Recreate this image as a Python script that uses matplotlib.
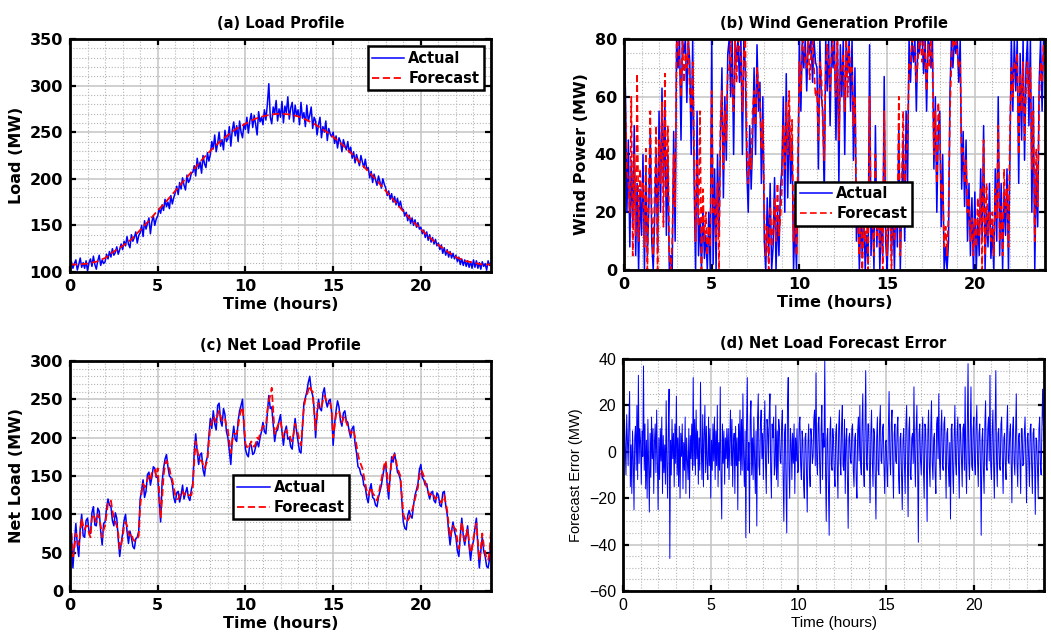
import numpy as np
import matplotlib
matplotlib.use("Agg")
import matplotlib.pyplot as plt
from matplotlib.ticker import MultipleLocator

# --- values (MW) ---
# load forecast, 30 min steps
load_forecast = [108, 108, 109, 111, 115, 122, 128, 135, 145, 155, 166, 176, 187, 198,
                 209, 220, 230, 239, 247, 254, 259, 264, 267, 269, 270, 269, 267, 263,
                 258, 252, 245, 237, 228, 218, 208, 198, 187, 176, 165, 155, 146, 137,
                 129, 122, 116, 112, 110, 108, 108]

# load actual, 5 min steps
load_actual = [106, 111, 104, 109, 113, 102, 108, 115, 105, 110, 104, 112,
               101, 110, 114, 106, 117, 108, 103, 112, 118, 107, 113, 109,
               111, 119, 114, 122, 116, 125, 118, 121, 127, 119, 124, 130,
               124, 133, 128, 138, 130, 126, 140, 133, 137, 143, 131, 139,
               142, 150, 138, 155, 146, 152, 158, 141, 154, 160, 150, 157,
               160, 168, 163, 172, 166, 178, 170, 175, 168, 182, 173, 180,
               185, 192, 183, 196, 189, 201, 193, 188, 204, 196, 199, 206,
               207, 214, 203, 222, 211, 218, 206, 225, 216, 212, 228, 219,
               226, 240, 232, 247, 229, 238, 250, 235, 242, 231, 252, 240,
               243, 256, 235, 252, 261, 246, 257, 240, 262, 250, 244, 259,
               253, 266, 249, 262, 270, 255, 268, 258, 247, 272, 261, 266,
               258, 274, 263, 280, 302, 266, 259, 277, 270, 284, 262, 275,
               266, 283, 260, 278, 271, 288, 264, 276, 282, 261, 279, 268,
               274, 258, 282, 265, 271, 256, 279, 262, 268, 277, 254, 266,
               262, 247, 258, 266, 244, 256, 250, 262, 241, 254, 248, 245,
               250, 238, 246, 233, 244, 240, 229, 242, 236, 231, 240, 228,
               234, 222, 229, 217, 226, 220, 214, 225, 218, 212, 221, 210,
               212, 201, 208, 196, 205, 199, 193, 203, 197, 190, 200, 194,
               190, 182, 187, 178, 184, 175, 181, 172, 179, 170, 176, 168,
               167, 160, 164, 155, 161, 152, 158, 150, 156, 148, 153, 146,
               148, 141, 145, 137, 143, 134, 140, 132, 137, 130, 135, 128,
               131, 124, 129, 120, 126, 118, 124, 116, 122, 115, 120, 114,
               118, 111, 116, 108, 114, 107, 113, 106, 112, 105, 111, 104,
               113, 105, 112, 104, 110, 103, 111, 106, 109, 102, 112, 107,
               110]

# wind power, 5 min steps
wind_actual = [80, 62, 20, 45, 8, 38, 15, 50, 5, 30, 0, 28,
               12, 40, 0, 35, 5, 22, 48, 10, 0, 18, 42, 6,
               55, 20, 63, 28, 58, 12, 40, 0, 5, 0, 48, 10,
               80, 70, 80, 45, 80, 75, 80, 58, 80, 72, 40, 80,
               30, 0, 55, 5, 18, 0, 22, 4, 12, 0, 20, 0,
               80, 2, 35, 0, 40, 12, 45, 70, 25, 60, 38, 75,
               80, 60, 80, 40, 80, 72, 80, 65, 80, 40, 80, 70,
               35, 20, 50, 28, 45, 70, 40, 78, 55, 65, 30, 60,
               10, 0, 25, 5, 30, 0, 8, 32, 0, 20, 5, 28,
               35, 60, 20, 68, 25, 55, 30, 45, 0, 18, 0, 30,
               80, 55, 80, 70, 80, 62, 80, 75, 80, 65, 80, 72,
               70, 35, 80, 60, 55, 25, 80, 62, 80, 50, 80, 70,
               80, 45, 80, 30, 78, 60, 80, 40, 80, 68, 80, 55,
               80, 38, 70, 10, 25, 0, 18, 5, 22, 0, 12, 2,
               78, 5, 25, 0, 50, 8, 30, 0, 18, 5, 67, 10,
               0, 15, 28, 5, 22, 0, 30, 8, 50, 0, 25, 45,
               10, 55, 30, 80, 65, 80, 72, 80, 55, 80, 75, 80,
               80, 68, 80, 55, 80, 78, 70, 80, 35, 60, 20, 48,
               55, 15, 40, 0, 8, 0, 10, 62, 80, 70, 80, 75,
               80, 65, 80, 28, 48, 22, 45, 10, 30, 5, 25, 0,
               27, 0, 18, 5, 35, 10, 50, 0, 22, 8, 30, 4,
               15, 0, 35, 10, 60, 5, 30, 0, 28, 12, 35, 0,
               40, 80, 55, 80, 62, 80, 30, 75, 45, 80, 38, 70,
               80, 50, 80, 20, 60, 0, 35, 15, 65, 80, 55, 80,
               75]

wind_forecast = [72, 55, 35, 30, 20, 60, 5, 40, 12, 68, 10, 35,
                 25, 30, 8, 42, 0, 30, 55, 20, 5, 28, 50, 0,
                 45, 30, 58, 15, 68, 25, 50, 5, 0, 10, 40, 22,
                 78, 80, 72, 60, 80, 65, 75, 70, 80, 62, 55, 72,
                 40, 10, 38, 15, 55, 0, 28, 10, 20, 5, 15, 8,
                 62, 20, 25, 10, 30, 0, 52, 62, 35, 55, 45, 68,
                 70, 80, 62, 55, 80, 65, 80, 78, 72, 55, 75, 80,
                 45, 30, 40, 35, 55, 62, 50, 70, 65, 58, 42, 52,
                 20, 5, 15, 0, 22, 8, 15, 25, 10, 30, 12, 18,
                 28, 50, 35, 58, 40, 62, 38, 52, 10, 25, 5, 40,
                 72, 62, 80, 78, 72, 70, 80, 66, 75, 80, 70, 60,
                 62, 45, 72, 68, 50, 38, 70, 78, 72, 62, 75, 80,
                 72, 60, 80, 45, 68, 70, 75, 55, 80, 60, 78, 68,
                 70, 50, 60, 20, 15, 5, 25, 0, 15, 10, 20, 0,
                 60, 15, 18, 5, 40, 12, 22, 8, 28, 0, 55, 18,
                 5, 25, 20, 0, 28, 10, 22, 15, 60, 5, 30, 55,
                 20, 40, 45, 72, 70, 80, 78, 75, 65, 72, 80, 78,
                 72, 80, 75, 62, 78, 70, 80, 72, 40, 55, 30, 58,
                 48, 25, 30, 8, 15, 5, 20, 55, 72, 80, 78, 80,
                 75, 70, 72, 40, 42, 30, 38, 20, 25, 10, 18, 5,
                 18, 8, 25, 12, 28, 0, 45, 5, 30, 12, 20, 10,
                 20, 5, 28, 18, 50, 10, 22, 5, 35, 20, 28, 8,
                 48, 70, 60, 72, 70, 75, 40, 68, 55, 72, 45, 62,
                 72, 60, 70, 35, 55, 10, 42, 22, 58, 72, 65, 78,
                 70]

# net load, 5 min steps
net_actual = [55, 72, 30, 62, 88, 60, 45, 82, 100, 72, 70, 92,
              95, 78, 75, 102, 110, 86, 85, 108, 104, 78, 60, 88,
              90, 108, 120, 112, 110, 92, 85, 102, 95, 68, 45, 62,
              75, 92, 100, 78, 62, 78, 70, 58, 55, 68, 70, 78,
              120, 132, 145, 122, 130, 152, 155, 138, 148, 162, 160, 148,
              150, 118, 90, 142, 160, 172, 178, 162, 150, 148, 140, 122,
              115, 128, 130, 116, 125, 138, 120, 128, 135, 122, 118, 132,
              140, 182, 205, 182, 165, 178, 180, 158, 150, 168, 175, 202,
              225, 212, 235, 218, 210, 242, 245, 222, 215, 238, 230, 208,
              200, 182, 165, 198, 215, 198, 195, 222, 235, 242, 250, 212,
              185, 178, 175, 192, 190, 178, 180, 188, 195, 188, 200, 208,
              220, 208, 205, 232, 255, 238, 240, 218, 195, 208, 210, 222,
              230, 208, 190, 208, 215, 198, 200, 188, 185, 208, 225, 208,
              195, 182, 180, 212, 245, 252, 260, 272, 280, 262, 255, 238,
              200, 232, 250, 238, 235, 258, 265, 248, 240, 248, 250, 232,
              190, 218, 235, 248, 240, 222, 215, 232, 235, 222, 220, 208,
              200, 212, 215, 192, 180, 162, 160, 152, 150, 138, 135, 122,
              115, 132, 140, 122, 120, 112, 110, 122, 130, 138, 150, 162,
              165, 138, 120, 152, 175, 168, 180, 168, 155, 152, 145, 118,
              90, 82, 80, 98, 105, 98, 95, 112, 125, 132, 140, 158,
              165, 148, 145, 138, 140, 128, 120, 128, 130, 118, 115, 128,
              125, 112, 110, 128, 130, 112, 100, 78, 60, 78, 90, 78,
              70, 52, 45, 72, 95, 72, 60, 72, 85, 58, 40, 58,
              65, 82, 95, 58, 30, 52, 70, 52, 45, 32, 30, 42,
              70]

net_forecast = [60, 75, 45, 55, 75, 70, 60, 75, 95, 85, 80, 85,
                85, 75, 70, 95, 100, 95, 90, 100, 95, 85, 70, 80,
                85, 100, 115, 118, 118, 105, 95, 90, 85, 75, 55, 60,
                70, 85, 90, 85, 75, 72, 75, 68, 65, 68, 68, 72,
                110, 128, 140, 135, 140, 145, 150, 145, 155, 155, 158, 150,
                160, 130, 95, 120, 150, 165, 170, 165, 160, 150, 145, 135,
                125, 120, 120, 125, 130, 130, 125, 128, 128, 125, 125, 125,
                135, 170, 195, 185, 175, 170, 170, 165, 160, 165, 170, 195,
                215, 220, 228, 225, 220, 230, 235, 228, 222, 225, 225, 215,
                210, 195, 180, 195, 205, 205, 205, 215, 228, 235, 240, 220,
                192, 188, 185, 190, 195, 190, 188, 192, 200, 198, 205, 210,
                215, 215, 215, 235, 248, 255, 265, 235, 205, 210, 215, 220,
                222, 210, 200, 205, 210, 205, 205, 198, 195, 205, 218, 210,
                205, 195, 190, 215, 240, 250, 255, 262, 268, 262, 260, 235,
                210, 230, 245, 242, 240, 248, 255, 250, 245, 245, 245, 235,
                200, 215, 230, 235, 235, 228, 220, 225, 228, 220, 215, 212,
                205, 208, 210, 200, 190, 178, 170, 165, 160, 150, 140, 130,
                125, 130, 135, 128, 125, 120, 118, 125, 135, 145, 155, 165,
                170, 150, 128, 150, 170, 175, 178, 170, 160, 155, 150, 125,
                100, 95, 90, 92, 95, 100, 105, 112, 120, 128, 135, 150,
                158, 155, 150, 142, 135, 130, 125, 126, 128, 124, 120, 122,
                120, 118, 115, 120, 125, 115, 105, 88, 70, 78, 85, 82,
                80, 65, 55, 70, 90, 78, 65, 72, 80, 65, 50, 55,
                70, 78, 88, 65, 40, 55, 75, 60, 50, 42, 40, 50,
                80]

# net load forecast error, 2.5 min steps
net_error = [8, -4, 14, 2, -10, 16, 5, -6, 12, 26, -15, 3, -18, 9, -3, -25, 6, 11, -8, 20, -12, 33, -5, 10,
             4, -14, 9, -2, 37, -8, 12, -16, 5, -20, 14, -6, -26, 8, -11, 15, -3, 10, -18, 4, 12, -9, 18, -5,
             -25, 6, -12, 10, -4, 15, -18, 7, -9, 3, -14, 22, -6, -20, 11, 27, -46, 5, -10, 14, -3, 8, -15, 12,
             -5, 24, -10, 6, -15, 11, -20, 8, -2, 12, -16, 4, -8, 15, -18, 6, -4, -12, 10, -20, 7, -3, 12, -8,
             32, -6, 14, -10, 18, -3, 9, -14, 6, -8, 30, 2, -12, 16, -15, 7, 20, -9, 11, -5, -12, 15, -6, 10,
             -20, 5, -8, 12, -4, 15, -12, 9, -6, 20, -15, 4, -8, 28, -10, -29, 12, -5, 9, -14, 6, -3, 10, -7,
             10, -12, 5, 18, -6, 14, -15, 3, 8, -18, 11, -6, 6, -25, 12, -4, 18, -10, 14, -8, 25, -3, -15, 9,
             -37, 12, 32, -8, 4, -35, 15, 22, -10, 6, -12, 15, -4, -18, 9, -32, 14, 25, -6, -10, 12, 18, -3, 8,
             -12, 9, 22, -6, -18, 14, 10, -5, 16, 25, -8, -20, 12, 6, 15, -10, -6, 20, -12, 9, -15, 14, 10, -4,
             -5, 12, 18, -10, -30, 8, 12, -16, -35, 20, 32, -6, -20, 10, 4, -12, 8, -5, 12, -18, 6, -4, 10, -9,
             -8, 12, 15, -6, -12, 9, 5, -14, -20, 6, 8, -10, -26, 4, 12, -8, -15, 10, 6, -5, -2, 14, 18, -6,
             34, -4, -10, 12, 15, -6, -18, 10, 20, -12, 8, 2, 40, -8, -30, 6, 10, -15, -36, 8, 15, -6, -8, 10,
             5, -9, -15, 8, 12, -6, -20, 10, 18, -4, -10, 12, 20, -6, -8, 14, -18, 5, 10, -12, -33, 6, 8, -3,
             -5, 10, 12, -8, -15, 6, 8, -12, -20, 9, 15, -4, 20, -6, -10, 12, 25, -8, -15, 10, 35, -4, -8, 12,
             12, -6, -22, 8, 18, -4, -15, 10, 8, -10, -29, 6, 15, -8, -10, 12, 20, -4, -5, 10, 12, -6, -18, 4,
             5, -8, -15, 10, 26, -3, -10, 12, 18, -6, -20, 8, 12, -4, -5, 10, 15, -12, -18, 6, 8, -10, -25, 5,
             10, -6, -18, 12, 20, -4, -28, 9, 15, -10, -12, 6, 8, -5, 28, -3, -15, 10, 20, -6, -39, 8, 12, -4,
             -10, 6, 15, -8, -20, 12, 10, -4, -30, 8, 18, -6, -15, 10, 22, -5, -12, 6, 8, -10, -18, 12, 15, -3,
             25, -4, -12, 10, 18, -6, -8, 12, 15, -4, -20, 8, 10, -6, -15, 4, -29, 10, 12, -8, -18, 6, 20, -5,
             -10, 8, 15, -6, -20, 12, 8, -4, -15, 10, 12, -8, 28, -6, -18, 10, 38, -4, -12, 8, 28, -6, -8, 10,
             15, -6, -10, 12, 20, -4, -15, 8, 12, -6, -36, 5, 10, -8, -18, 12, 22, -6, -8, 10, 15, -4, 33, -6,
             -12, 8, 18, -6, -20, 10, 35, -4, -15, 8, 10, -6, -8, 12, 15, -4, -18, 6, 8, -5, -12, 10, 20, -4,
             -5, 8, 12, -6, -22, 10, 15, -4, -10, 8, 25, -5, -15, 6, 8, -4, -18, 10, 10, -6, -5, 8, 15, -3,
             -22, 6, 8, -4, -15, 10, 12, -6, -18, 8, 10, -4, -27, 6, 5, -8, -20, 10, 15, -6, -10, 8, 27, 12,
             5]


def hours(series):
    return np.linspace(0, 24, len(series))


def style_axes(ax, ylim, ystep, yminor, bold=True):
    weight = 'bold' if bold else 'normal'
    ax.set_xlim(0, 24)
    ax.set_ylim(*ylim)
    ax.xaxis.set_major_locator(MultipleLocator(5))
    ax.xaxis.set_minor_locator(MultipleLocator(1))
    ax.yaxis.set_major_locator(MultipleLocator(ystep))
    ax.yaxis.set_minor_locator(MultipleLocator(yminor))
    ax.set_axisbelow(True)
    ax.grid(which='major', color='#c4c4c4', lw=1.1)
    ax.grid(which='minor', color='#b4b4b4', lw=0.8, ls=':')
    ax.tick_params(which='major', direction='in', top=True, right=True,
                   length=4, width=1.6, labelsize=11.5, pad=5)
    ax.tick_params(which='minor', length=0)
    for lab in ax.get_xticklabels() + ax.get_yticklabels():
        lab.set_fontweight(weight)
    for s in ax.spines.values():
        s.set_linewidth(2)


def add_legend(ax, **kw):
    leg = ax.legend(fancybox=False, framealpha=1, edgecolor='black',
                    prop={'weight': 'bold', 'size': 10.5}, handlelength=2.2,
                    borderpad=0.3, labelspacing=0.35, handletextpad=0.3,
                    borderaxespad=0.5, **kw)
    leg.get_frame().set_linewidth(1.8)


plt.rcParams['font.family'] = 'DejaVu Sans'
fig = plt.figure(figsize=(10.51, 6.38), dpi=100)

ax_a = fig.add_axes([0.0666, 0.5737, 0.4006, 0.3652])
ax_b = fig.add_axes([0.5937, 0.5768, 0.4006, 0.3621])
ax_c = fig.add_axes([0.0666, 0.0737, 0.4006, 0.3605])
ax_d = fig.add_axes([0.5928, 0.0737, 0.4006, 0.3636])

blue = '#0000ff'
red = '#ff0000'
dash = (0, (4, 2))

# (a) load
ax_a.plot(hours(load_actual), load_actual, color=blue, lw=1.1, label='Actual')
ax_a.plot(hours(load_forecast), load_forecast, color=red, lw=1.3, ls=dash, label='Forecast')
style_axes(ax_a, (100, 350), 50, 10)
ax_a.set_title('(a) Load Profile', fontsize=10.5, fontweight='bold', pad=8)
ax_a.set_xlabel('Time (hours)', fontsize=11.5, fontweight='bold', labelpad=2)
ax_a.set_ylabel('Load (MW)', fontsize=11.5, fontweight='bold')
add_legend(ax_a, loc='upper right')

# (b) wind
ax_b.plot(hours(wind_actual), wind_actual, color=blue, lw=1.1, label='Actual')
ax_b.plot(hours(wind_forecast), wind_forecast, color=red, lw=1.2, ls=dash, label='Forecast')
style_axes(ax_b, (0, 80), 20, 5)
ax_b.set_title('(b) Wind Generation Profile', fontsize=10.5, fontweight='bold', pad=8)
ax_b.set_xlabel('Time (hours)', fontsize=11.5, fontweight='bold', labelpad=2)
ax_b.set_ylabel('Wind Power (MW)', fontsize=11.5, fontweight='bold')
add_legend(ax_b, loc='lower left', bbox_to_anchor=(0.39, 0.16))

# (c) net load
ax_c.plot(hours(net_actual), net_actual, color=blue, lw=1.1, label='Actual')
ax_c.plot(hours(net_forecast), net_forecast, color=red, lw=1.3, ls=dash, label='Forecast')
style_axes(ax_c, (0, 300), 50, 10)
ax_c.set_title('(c) Net Load Profile', fontsize=10.5, fontweight='bold', pad=8)
ax_c.set_xlabel('Time (hours)', fontsize=11.5, fontweight='bold', labelpad=2)
ax_c.set_ylabel('Net Load (MW)', fontsize=11.5, fontweight='bold')
add_legend(ax_c, loc='lower left', bbox_to_anchor=(0.37, 0.28))

# (d) forecast error
ax_d.plot(hours(net_error), net_error, color=blue, lw=0.7)
style_axes(ax_d, (-60, 40), 20, 5, bold=False)
for lab in ax_d.get_xticklabels() + ax_d.get_yticklabels():
    lab.set_fontfamily('Liberation Sans')
ax_d.set_title('(d) Net Load Forecast Error', fontsize=10.5, fontweight='bold', pad=8)
ax_d.set_xlabel('Time (hours)', fontsize=11, family='Liberation Sans', labelpad=2)
ax_d.set_ylabel('Forecast Error (MW)', fontsize=10.5, family='Liberation Sans')

fig.savefig('out.png', dpi=100)
